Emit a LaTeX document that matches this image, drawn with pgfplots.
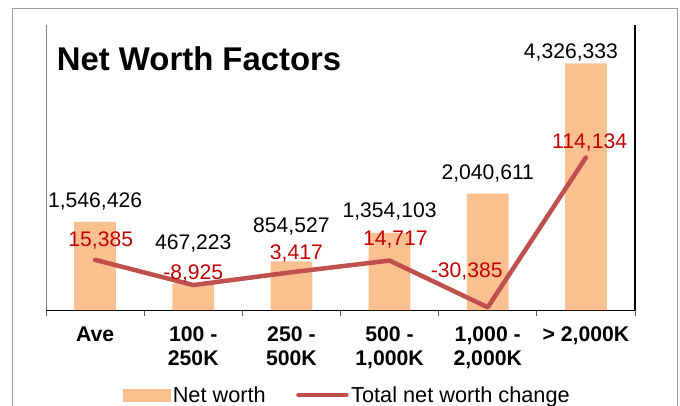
\documentclass[border=0pt]{standalone}
\usepackage{fontspec}
\setmainfont{Liberation Sans}
\usepackage{pgfplots}
\usepackage{pgfplotstable}
\pgfplotsset{compat=1.18}
\definecolor{barc}{HTML}{FAC090}
\definecolor{linec}{HTML}{C0504D}
\definecolor{labred}{HTML}{C00000}
\pgfplotstableread{
x y lab dx dy
0 1546426 1,546,426 0 14.6
1 467223 467,223 0 33.4
2 854527 854,527 0 28.6
3 1354103 1,354,103 0 15.5
4 2040611 2,040,611 0 13.7
5 4326333 4,326,333 -15 5
}\bars
\pgfplotstableread{
x y lab dx dy
0 15385 15,385 5.7 13.2
1 -8925 -8,925 0 6
2 3417 3,417 5 12.3
3 14717 14,717 5.8 15.5
4 -30385 -30,385 -21 29.6
5 114134 114,134 3.7 9.5
}\chg
\begin{document}
\begin{tikzpicture}
\draw[gray!75, line width=1bp] (12bp,-5bp) -- (12bp,397bp) -- (677bp,397bp) -- (677bp,-5bp);
\begin{axis}[
  at={(46bp,96bp)}, anchor=south west,
  scale only axis, width=589bp, height=285bp,
  xmin=-0.5, xmax=5.5, ymin=0, ymax=5000000,
  axis x line*=bottom, axis y line*=left,
  ytick=\empty,
  xtick={0,...,5},
  xticklabels={Ave, {100 -\\250K}, {250 -\\500K}, {500 -\\1,000K}, {1,000 -\\2,000K}, {> 2,000K}},
  minor xtick={-0.5,0.5,...,5.5},
  major tick length=0pt, minor tick length=6bp,
  tick align=outside,
  minor tick style={gray!70!black, line width=0.8bp},
  xticklabel style={font=\fontsize{21.3}{24}\selectfont\bfseries, align=center, anchor=north, yshift=-13bp},
  x axis line style={black, line width=1bp},
  y axis line style={gray, line width=1bp},
  clip=false,
]
\addplot[ybar, bar width=41.7bp, fill=barc, draw=none,
  nodes near coords, point meta=explicit symbolic,
  visualization depends on={\thisrow{dx} \as \dx},
  visualization depends on={\thisrow{dy} \as \dy},
  every node near coord/.append style={anchor=base, inner sep=0pt, xshift=\dx bp, yshift=\dy bp, font=\fontsize{21.2}{24}\selectfont, text=black}]
  table[x=x, y=y, meta=lab]{\bars};
\end{axis}
\begin{axis}[
  at={(46bp,96bp)}, anchor=south west,
  scale only axis, width=589bp, height=285bp,
  xmin=-0.5, xmax=5.5, ymin=-33000, ymax=242000,
  axis x line=none, axis y line*=right,
  ytick=\empty, xtick=\empty,
  y axis line style={black, line width=2bp},
  clip=false,
  legend columns=2,
  legend style={draw=none, fill=none, inner sep=0pt, at={(0.1302,-0.298)}, anchor=west,
    font=\fontsize{21.8}{24}\selectfont, nodes={inner sep=2.5bp},
    /tikz/every even column/.append style={column sep=28bp}},
]
\addlegendimage{legend image code/.code={\fill[barc] (0bp,-6.2bp) rectangle (47bp,6.2bp);}}
\addlegendentry{Net worth}
\addlegendimage{legend image code/.code={\draw[linec, line width=4.5bp, line cap=round] (2bp,0bp) -- (50bp,0bp);}}
\addlegendentry{Total net worth change}
\addplot[linec, line width=4.5bp, line join=round, line cap=round, mark=none,
  nodes near coords, point meta=explicit symbolic,
  visualization depends on={\thisrow{dx} \as \dx},
  visualization depends on={\thisrow{dy} \as \dy},
  every node near coord/.append style={anchor=base, inner sep=0pt, xshift=\dx bp, yshift=\dy bp, font=\fontsize{21.2}{24}\selectfont, text=labred}]
  table[x=x, y=y, meta=lab]{\chg};
\end{axis}
\node[anchor=base west, inner sep=0pt, font=\fontsize{33}{36}\selectfont\bfseries] at (56.7bp,335.3bp) {Net Worth Factors};
\pgfresetboundingbox
\useasboundingbox (0,0) rectangle (680bp,406bp);
\end{tikzpicture}
\end{document}
